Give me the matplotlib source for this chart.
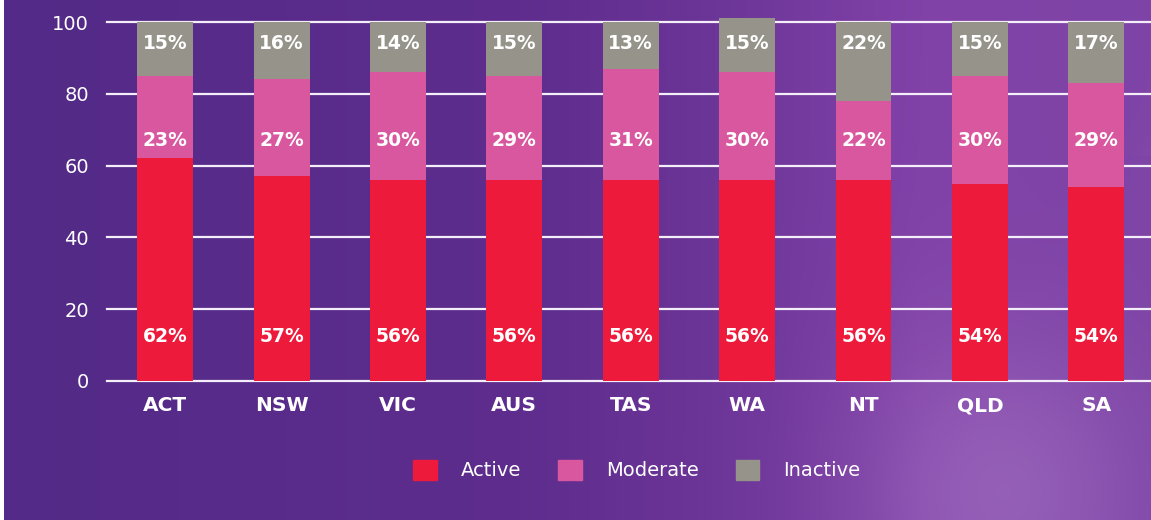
import numpy as np
import matplotlib.pyplot as plt
from matplotlib.colors import to_rgb
from matplotlib.patches import Patch

states = ['ACT', 'NSW', 'VIC', 'AUS', 'TAS', 'WA', 'NT', 'QLD', 'SA']
active = [62, 57, 56, 56, 56, 56, 56, 55, 54]
moderate = [23, 27, 30, 29, 31, 30, 22, 30, 29]
inactive = [15, 16, 14, 15, 13, 15, 22, 15, 17]
# percentages as printed on the bars
active_lbl = [62, 57, 56, 56, 56, 56, 56, 54, 54]
moderate_lbl = [23, 27, 30, 29, 31, 30, 22, 30, 29]
inactive_lbl = [15, 16, 14, 15, 13, 15, 22, 15, 17]
yticks = [0, 20, 40, 60, 80, 100]

RED = '#ee1a3b'
PINK = '#d9579e'
GREY = '#96948a'

W, H = 1151, 520
fig = plt.figure(figsize=(W / 100, H / 100), dpi=100, facecolor='white')

# purple gradient background
bg = fig.add_axes([4 / W, 0, 1 - 4 / W, 1], zorder=-5)
bg.axis('off')
xs = np.linspace(0, 1, 600)
ys = np.linspace(0, 1, 280)
X, Y = np.meshgrid(xs, ys)
stops = [0.0, 0.45, 0.62, 0.8, 1.0]
cols = [to_rgb(c) for c in ['#532a87', '#5e2d8e', '#6c3598', '#8142a8', '#7e44a6']]
img = np.zeros((len(ys), len(xs), 3))
for k in range(3):
    img[..., k] = np.interp(X, stops, [c[k] for c in cols])
# soft light glows / streaks on the right
glow = np.exp(-(((X - 0.87) / 0.12) ** 2 + ((Y - 0.95) / 0.3) ** 2))
streak = np.exp(-(((X - 0.78) - 0.35 * (1 - Y)) / 0.03) ** 2) * (Y < 0.3) * 0.5
light = np.clip(0.28 * glow + 0.2 * streak, 0, 1)[..., None]
img = img * (1 - light) + np.array(to_rgb('#c9a8e0')) * light
bg.imshow(img, aspect='auto', extent=[0, 1, 0, 1], origin='upper')
bg.set_xlim(0, 1)
bg.set_ylim(0, 1)

ax = fig.add_axes([107 / W, 1 - 381 / H, 1 - 107 / W, (381 - 22) / H])
ax.patch.set_alpha(0)
x = np.arange(len(states))
b1 = ax.bar(x, active, 0.48, color=RED, zorder=3, clip_on=False)
bottom2 = np.array(active)
b2 = ax.bar(x, moderate, 0.48, bottom=bottom2, color=PINK, zorder=3, clip_on=False)
bottom3 = bottom2 + np.array(moderate)
b3 = ax.bar(x, inactive, 0.48, bottom=bottom3, color=GREY, zorder=3, clip_on=False)

lbl_kw = dict(ha='center', va='center', color='white', fontsize=13.5,
              fontweight='bold', zorder=4)
for i in x:
    ax.text(i, 12.3, f'{active_lbl[i]}%', **lbl_kw)
    ax.text(i, 66.9, f'{moderate_lbl[i]}%', **lbl_kw)
    ax.text(i, 94.0, f'{inactive_lbl[i]}%', **lbl_kw)

ax.set_xlim(-0.5, 8.47)
ax.set_ylim(0, 100)
ax.set_yticks(yticks)
ax.set_xticks(x)
ax.set_xticklabels(states, fontsize=14.5, fontweight='bold', color='white')
ax.tick_params(axis='y', labelsize=14, labelcolor='white', length=0, pad=13)
ax.tick_params(axis='x', length=0, pad=11)
for s in ax.spines.values():
    s.set_visible(False)
for v in yticks:
    ax.axhline(v, color='#f3eef8', lw=1.6, zorder=1, clip_on=False)

handles = [Patch(color=RED), Patch(color=PINK), Patch(color=GREY)]
fig.legend(handles, ['Active', 'Moderate', 'Inactive'], loc='center',
           bbox_to_anchor=(637 / W, 1 - 470 / H), ncol=3, frameon=False,
           fontsize=14, labelcolor='white', handlelength=1.2, handleheight=1.2,
           handletextpad=1.25, columnspacing=1.9)

fig.savefig('out.png', dpi=100, facecolor='white')
